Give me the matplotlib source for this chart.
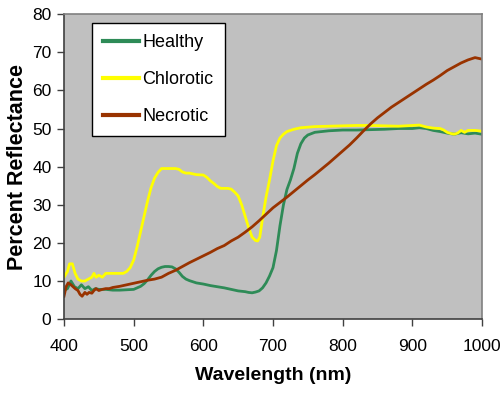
import matplotlib
matplotlib.use("Agg")
import matplotlib.pyplot as plt

plt.rcParams['font.family'] = ['Liberation Sans', 'DejaVu Sans']

# Healthy
wl_healthy = [400, 405, 410, 415, 420, 425, 430, 435, 440, 445, 450, 460, 470, 480, 490, 500,
              505, 510, 515, 520, 525, 530, 535, 540, 545, 550, 555, 560, 565, 570, 575, 580,
              590, 600, 610, 620, 630, 640, 650, 660, 665, 670, 675, 680, 685, 690, 695, 700,
              705, 710, 715, 720, 725, 730, 735, 740, 745, 750, 760, 780, 800, 820, 840, 860,
              880, 900, 910, 920, 930, 940, 950, 960, 970, 980, 990, 1000]
healthy = [7.5, 8.0, 10.0, 8.5, 8.0, 9.0, 8.0, 8.5, 7.5, 8.0, 7.8, 7.8, 7.6, 7.6, 7.7, 7.8,
           8.2, 8.6, 9.3, 10.3, 11.5, 12.5, 13.2, 13.6, 13.8, 13.8, 13.7, 13.2, 12.3, 11.2, 10.5, 10.1,
           9.5, 9.2, 8.8, 8.5, 8.2, 7.8, 7.4, 7.2, 7.0, 6.9, 7.1, 7.4, 8.2, 9.5, 11.3, 13.5,
           18.0, 24.5, 30.0, 34.0, 36.5, 39.5, 43.5, 46.0, 47.5, 48.3, 49.0, 49.4, 49.6, 49.6, 49.7, 49.8,
           50.0, 50.0, 50.2, 50.0, 49.5, 49.2, 48.8, 48.5, 48.9, 48.6, 48.8, 48.5]

# Chlorotic
wl_chlorotic = [400, 405, 408, 412, 416, 420, 425, 430, 435, 440, 443, 446, 450, 455, 460, 470,
                480, 485, 490, 495, 500, 505, 510, 515, 520, 525, 530, 535, 540, 550, 560, 565,
                570, 575, 580, 590, 600, 605, 610, 615, 620, 625, 630, 635, 640, 645, 650, 655,
                660, 665, 670, 675, 678, 681, 685, 690, 695, 700, 705, 710, 715, 720, 730, 740,
                760, 780, 800, 820, 840, 860, 880, 900, 910, 920, 930, 940, 945, 950, 955, 960,
                965, 970, 975, 980, 990, 1000]
chlorotic = [11.0, 12.5, 14.5, 14.5, 12.0, 10.5, 10.0, 10.0, 10.5, 11.0, 12.0, 11.0, 11.5, 11.0, 12.0, 12.0,
             12.0, 12.0, 12.5, 13.5, 15.5, 19.0, 23.0, 27.0, 31.0, 34.5, 37.0, 38.5, 39.5, 39.5, 39.5, 39.3,
             38.6, 38.3, 38.3, 37.9, 37.8, 37.2, 36.3, 35.6, 34.8, 34.3, 34.3, 34.3, 34.1, 33.3, 32.3, 30.0,
             27.0, 24.0, 21.5, 20.6, 20.5, 21.5, 26.5, 32.0, 36.5, 41.5, 45.5, 47.5, 48.5, 49.2, 49.8, 50.2,
             50.5, 50.6, 50.7, 50.8, 50.8, 50.7, 50.6, 50.8, 50.9, 50.4, 50.1, 50.0, 49.6, 49.0, 48.7, 48.5,
             48.8, 49.5, 49.0, 49.5, 49.5, 49.3]

# Necrotic
wl_necrotic = [400, 403, 406, 410, 413, 416, 420, 423, 426, 430, 433, 436, 440, 443, 446, 450,
               455, 460, 465, 470, 480, 490, 500, 510, 520, 530, 540, 550, 560, 570, 580, 590,
               600, 610, 620, 630, 640, 650, 660, 670, 680, 690, 700, 710, 720, 730, 740, 750,
               760, 770, 780, 790, 800, 810, 820, 830, 840, 850, 860, 870, 880, 890, 900, 910,
               920, 930, 940, 950, 960, 970, 980, 990, 1000]
necrotic = [6.0, 8.5, 9.5, 9.0, 8.5, 8.0, 7.5, 6.5, 6.0, 7.0, 6.5, 7.0, 6.8, 7.5, 8.0, 7.5,
            7.8, 8.0, 8.0, 8.3, 8.6, 9.0, 9.4, 9.8, 10.2, 10.5, 11.0, 12.0, 12.8, 13.8, 14.8, 15.7,
            16.6, 17.5, 18.5, 19.3, 20.5, 21.5, 22.8, 24.2, 25.8, 27.5, 29.2, 30.6, 32.0, 33.5, 35.0, 36.5,
            37.9, 39.4, 40.9, 42.5, 44.1, 45.7, 47.5, 49.4, 51.2, 52.8, 54.2, 55.6, 56.8, 58.0, 59.2, 60.4,
            61.6, 62.7, 63.9, 65.2, 66.2, 67.2, 68.0, 68.6, 68.2]

labels = ["Healthy", "Chlorotic", "Necrotic"]
colors = ["#2E8B57", "#FFFF00", "#993300"]

x_ticks = [400, 500, 600, 700, 800, 900, 1000]
y_ticks = [0, 10, 20, 30, 40, 50, 60, 70, 80]

fig = plt.figure(figsize=(5.0, 3.93), dpi=100)
ax = fig.add_axes([0.128, 0.188, 0.836, 0.776])
ax.set_facecolor("#C0C0C0")

ax.plot(wl_healthy, healthy, color=colors[0], lw=2.0, label=labels[0])
ax.plot(wl_chlorotic, chlorotic, color=colors[1], lw=2.0, label=labels[1])
ax.plot(wl_necrotic, necrotic, color=colors[2], lw=2.0, label=labels[2])

ax.set_xlim(400, 1000)
ax.set_ylim(0, 80)
ax.set_xticks(x_ticks)
ax.set_yticks(y_ticks)
ax.tick_params(axis='both', labelsize=12.5, length=5, width=1, color="#404040")
ax.tick_params(axis='y', pad=4)
ax.tick_params(axis='x', pad=9)

for side in ["left", "bottom"]:
    ax.spines[side].set_color("#404040")
    ax.spines[side].set_linewidth(1.2)
for side in ["top", "right"]:
    ax.spines[side].set_color("#808080")
    ax.spines[side].set_linewidth(1.2)

ax.set_xlabel("Wavelength (nm)", fontsize=14, fontweight="bold", labelpad=10)
ax.set_ylabel("Percent Reflectance", fontsize=15.5, fontweight="bold", labelpad=3)

leg = ax.legend(loc="upper left", bbox_to_anchor=(0.067, 0.97), fontsize=13,
                frameon=True, fancybox=False, framealpha=1, edgecolor="black",
                handlelength=2.0, handletextpad=0.2, labelspacing=1.1,
                borderpad=0.6, borderaxespad=0)
leg.get_frame().set_linewidth(1.0)
for line in leg.get_lines():
    line.set_linewidth(3.0)

fig.savefig("out.png", dpi=100)
